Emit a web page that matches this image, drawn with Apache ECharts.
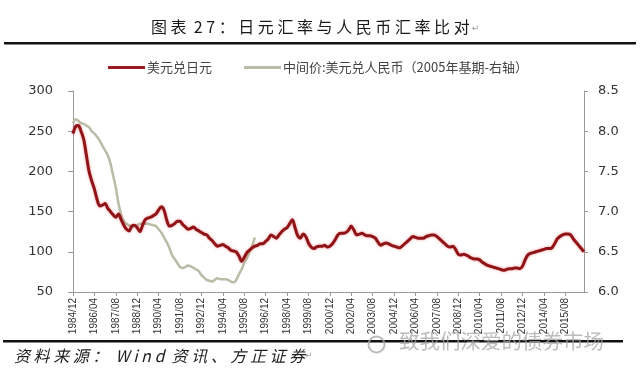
<!DOCTYPE html>
<html>
<head>
<meta charset="utf-8">
<script src="https://cdn.jsdelivr.net/npm/echarts@6/dist/echarts.min.js"></script>
<style>
html,body{margin:0;padding:0;background:#fff;}
#chart{width:640px;height:377px;}
</style>
</head>
<body>
<div id="chart"></div>
<script>
// ---- data ----
var startYear = 1984, startMonth = 12, stepMonths = 2, pointCount = 192;
var categories = [];
for (var k = 0; k < pointCount; k++) {
  var m = startMonth - 1 + k * stepMonths;
  var y = startYear + Math.floor(m / 12);
  var mm = (m % 12) + 1;
  categories.push(y + '/' + (mm < 10 ? '0' + mm : '' + mm));
}
var seriesNames = ['美元兑日元', '中间价:美元兑人民币（2005年基期-右轴）'];
var usdJpy = [
  247,256,257,250,240,220,200,188,178,165,
  157,158,160,154,150,146,143,147,140,133,
  128,126,132,133,130,125,133,140,142,143,
  145,147,152,156,152,140,132,133,135,138,
  138,134,131,128,129,131,128,126,124,122,
  121,117,114,110,107,108,109,107,105,102,
  101,100,95,88,93,99,102,105,107,108,
  110,110,113,116,121,119,117,121,125,128,
  130,135,140,130,120,117,122,119,111,106,
  104,106,107,107,108,106,107,110,115,121,
  123,123,124,127,132,127,121,122,123,121,
  120,120,119,117,112,108,110,111,110,108,
  107,106,105,107,110,113,116,119,118,117,
  117,117,119,120,121,121,119,116,113,110,
  107,106,107,103,97,96,97,96,94,92,
  91,91,90,87,85,83,82,81,80,79,
  78,77,78,79,79,80,80,79,82,90,
  96,98,99,100,101,102,103,104,104,105,
  110,116,119,121,122,122,121,116,112,108,
  104,100
];
var usdCny = [
  8.10,8.15,8.13,8.10,8.09,8.07,8.05,8.00,7.97,7.93,
  7.88,7.82,7.76,7.70,7.60,7.45,7.30,7.10,6.96,6.88,
  6.85,6.83,6.81,6.82,6.83,6.85,6.85,6.85,6.85,6.84,
  6.83,6.82,6.78,6.74,6.68,6.62,6.55,6.46,6.41,6.36,
  6.31,6.30,6.31,6.33,6.32,6.30,6.28,6.26,6.21,6.18,
  6.15,6.14,6.13,6.15,6.17,6.16,6.16,6.16,6.15,6.13,
  6.12,6.15,6.22,6.28,6.36,6.42,6.50,6.58,6.68
];
var leftTicks = { min: 50, max: 300, interval: 50 };
var rightTicks = { min: 6.0, max: 8.5, interval: 0.5 };
var labelEvery = 8;
var titleText = '图 表  2 7 ： 日 元 汇 率 与 人 民 币 汇 率 比 对';
var sourceText = '资 料 来 源 ：  W i n d  资 讯 、 方 正 证 券';
var watermarkText = '致我们深爱的债券市场';

// ---- chart ----
var chart = echarts.init(document.getElementById('chart'), null, { renderer: 'canvas' });
var axisLabelColor = '#333';
var option = {
  backgroundColor: '#fff',
  animation: false,
  title: {
    text: '{t|' + titleText + '}{r|↵}',
    left: 146, top: 14,
    textStyle: {
      fontWeight: 'normal',
      rich: {
        t: { fontSize: 16, color: '#1a1a1a', fontWeight: 'normal', fontFamily: 'Noto Sans CJK SC' },
        r: { fontSize: 9, color: '#999', fontFamily: 'DejaVu Sans', padding: [4, 0, 0, 2] }
      }
    }
  },
  legend: {
    data: [seriesNames[0], seriesNames[1]],
    left: 103, top: 56,
    icon: 'rect', itemWidth: 37, itemHeight: 3, itemGap: 32,
    textStyle: { fontSize: 13, color: '#444', fontFamily: 'Noto Sans CJK SC', padding: [0, 0, 0, -3] }
  },
  grid: { left: 73, right: 56, top: 91, bottom: 85, containLabel: false, outerBoundsMode: 'none' },
  xAxis: {
    type: 'category',
    data: categories,
    boundaryGap: false,
    axisLine: { lineStyle: { color: '#9a9a9a', width: 1 } },
    axisTick: { show: true, interval: labelEvery - 1, length: 4, lineStyle: { color: '#9a9a9a' } },
    axisLabel: {
      interval: labelEvery - 1, rotate: 90, margin: 6,
      fontSize: 10, color: axisLabelColor, fontFamily: 'Liberation Sans'
    },
    splitLine: { show: false }
  },
  yAxis: [
    {
      type: 'value', position: 'left',
      min: leftTicks.min, max: leftTicks.max, interval: leftTicks.interval,
      axisLine: { show: true, lineStyle: { color: '#9a9a9a' } },
      axisTick: { show: true, length: 5, lineStyle: { color: '#9a9a9a' } },
      axisLabel: { margin: 20, fontSize: 13, color: axisLabelColor, fontFamily: 'DejaVu Sans' },
      splitLine: { show: false }
    },
    {
      type: 'value', position: 'right',
      min: rightTicks.min, max: rightTicks.max, interval: rightTicks.interval,
      axisLine: { show: true, lineStyle: { color: '#9a9a9a' } },
      axisTick: { show: true, length: 4, lineStyle: { color: '#9a9a9a' } },
      axisLabel: {
        margin: 14, fontSize: 13, color: axisLabelColor, fontFamily: 'DejaVu Sans',
        formatter: function (v) { return v.toFixed(1); }
      },
      splitLine: { show: false }
    }
  ],
  series: [
    {
      name: seriesNames[1], type: 'line', yAxisIndex: 1,
      data: usdCny, symbol: 'none', smooth: 0.3,
      itemStyle: { color: '#b9bca6' },
      lineStyle: { color: '#b9bca6', width: 2.5 },
      z: 2
    },
    {
      name: seriesNames[0], type: 'line', yAxisIndex: 0,
      data: usdJpy, symbol: 'none', smooth: 0.3,
      itemStyle: { color: '#9b1b20' },
      lineStyle: { color: '#8e1418', width: 3, shadowColor: 'rgba(235,70,70,0.55)', shadowBlur: 3 },
      z: 3
    }
  ],
  graphic: [
    { type: 'rect', left: 4, top: 42, shape: { width: 632, height: 2.5 }, style: { fill: '#111' } },
    { type: 'rect', left: 3, top: 340, shape: { width: 620, height: 2.5 }, style: { fill: '#111' } },
    { type: 'circle', left: 366, top: 334, shape: { r: 8 }, style: { fill: 'none', stroke: 'rgba(170,170,170,0.8)', lineWidth: 2 }, z: 10 },
    {
      type: 'text', left: 399, top: 331, z: 10,
      style: { text: watermarkText, fontSize: 20.5, fill: 'rgba(165,165,165,0.75)', fontFamily: 'Noto Sans CJK SC' }
    },
    {
      type: 'text', left: 14, top: 348,
      style: {
        text: '{s|' + sourceText + '}{r|↵}',
        rich: {
          s: { fontSize: 16, fontStyle: 'italic', fill: '#222', fontFamily: 'Noto Sans CJK SC' },
          r: { fontSize: 9, fill: '#999', fontFamily: 'DejaVu Sans' }
        }
      }
    }
  ]
};
chart.setOption(option);
</script>
</body>
</html>
